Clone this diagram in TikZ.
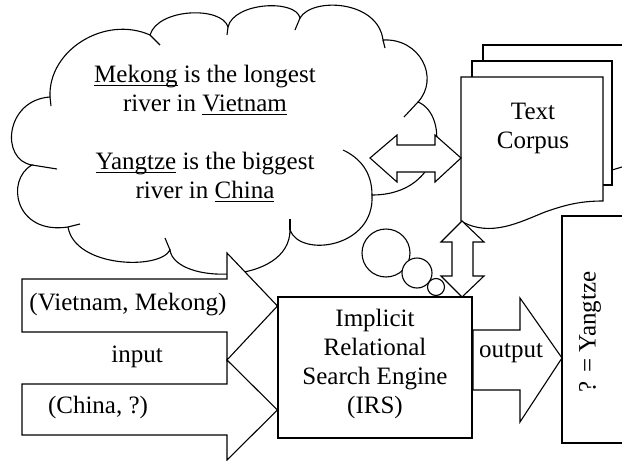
\documentclass[tikz,border=0pt]{standalone}
\usepackage{fontspec}
\setmainfont{Liberation Serif}
\newcommand\ulx[1]{\setbox0\hbox{#1}\rlap{\rule[-3pt]{\wd0}{1.1pt}}\box0\relax}
\begin{document}
\begin{tikzpicture}[x=1pt,y=-1pt,line width=1.1pt,line join=miter,
  shapeline/.style={draw=black,fill=white},
  txt/.style={font=\fontsize{25}{29}\selectfont,inner sep=0pt,align=center},
  bubble/.style={draw=black,fill=white,circle,inner sep=0pt}]
\useasboundingbox (0,0) rectangle (622,461);
% cloud
\path[shapeline] (50,97) .. controls (48,50) and (105,15) .. (150,35)
  .. controls (158,8) and (222,6) .. (228,27)
  .. controls (234,2) and (296,-1) .. (300,18)
  .. controls (312,-3) and (378,0) .. (383,40)
  .. controls (420,38) and (440,78) .. (418,102)
  .. controls (450,115) and (445,195) .. (372,195)
  .. controls (375,248) and (300,258) .. (290,230)
  .. controls (290,285) and (175,285) .. (170,250)
  .. controls (160,270) and (75,268) .. (68,227)
  .. controls (15,235) and (5,180) .. (32,165)
  .. controls (0,160) and (5,100) .. (50,97) -- cycle;
% interior strokes of the cloud
\draw (372,195) .. controls (372,172) and (360,158) .. (343,150);
\draw (290,230) -- (290,219);
\draw (50,97) -- (51,106);
\draw (150,35) -- (160,45);
\draw (228,27) -- (227,35);
\draw (300,18) -- (295,30);
\draw (383,40) -- (385,48);
\draw (418,102) -- (404,117);
\draw (170,250) -- (165,238);
\draw (68,227) -- (80,224);
\draw (32,165) -- (57,169);
\node[txt] (m1) at (205,90) {\ulx{Mekong} is the longest\\river in \ulx{Vietnam}};
\node[txt] (m2) at (205,177) {\ulx{Yangtze} is the biggest\\river in \ulx{China}};
% thought bubbles
\node[bubble,minimum size=48pt] (b1) at (386,253) {};
\node[bubble,minimum size=30pt] (b2) at (417,273) {};
\node[bubble,minimum size=17pt] (b3) at (436,287) {};
% document stack
\draw (483,61) -- (483,45) -- (622,45);
\draw (612,170) -- (622,167);
\draw[shapeline] (472,77) -- (472,61) -- (612,61) -- (612,185) -- (603,185);
\path[shapeline] (461,77) -- (603,77) -- (603,201)
  .. controls (580,201) and (565,205) .. (545,212)
  .. controls (520,222) and (490,238) .. (461,221) -- cycle;
\node[txt] (corpus) at (533,128) {Text\\Corpus};
% IRS box
\node[draw,fill=white,minimum width=194pt,minimum height=141pt,inner sep=0pt] (irs) at (375,367.5) {};
\node[txt] (irstxt) at (375,364) {Implicit\\Relational\\Search Engine\\(IRS)};
% answer box
\draw (622,216) -- (562,216) -- (562,443) -- (622,443);
\node[txt,rotate=90] (ans) at (590,332) {? = Yangtze};
% left-right double arrow
\path[shapeline] (370,158) -- (397,135) -- (397,145) -- (435,145) -- (435,135) -- (461,158)
  -- (435,182) -- (435,172) -- (397,172) -- (397,182) -- cycle;
% up-down double arrow
\path[shapeline] (462,221) -- (484,242) -- (473,242) -- (473,276) -- (484,276) -- (462,297)
  -- (441,276) -- (452,276) -- (452,242) -- (441,242) -- cycle;
% input arrows
\path[shapeline] (22,279) -- (227,279) -- (227,253) -- (irs.west |- 0,306) -- (227,360) -- (227,332) -- (22,332) -- cycle;
\path[shapeline] (22,384) -- (227,384) -- (227,360) -- (irs.west |- 0,410) -- (227,460) -- (227,435) -- (22,435) -- cycle;
\node[txt] (in1) at (128,305) {(Vietnam, Mekong)};
\node[txt] (inlab) at (137,357) {input};
\node[txt] (in2) at (98,407) {(China, ?)};
% output arrow
\path[shapeline] (473,330) -- (520,330) -- (520,298) -- (562,358) -- (520,422) -- (520,390) -- (473,390) -- cycle;
\node[txt] (outlab) at (511,353) {output};
\end{tikzpicture}
\end{document}
